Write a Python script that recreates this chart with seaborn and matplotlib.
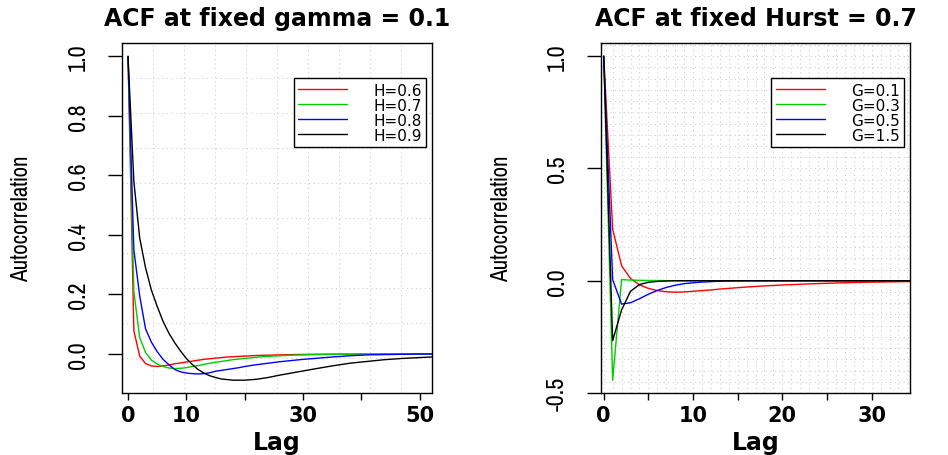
import matplotlib
matplotlib.use("Agg")
import matplotlib.pyplot as plt
from matplotlib import font_manager as fm
import seaborn as sns
import pandas as pd
import numpy as np

# ---- data ----
lags_h = [0, 1, 2, 3, 4, 5, 6, 7, 8, 9, 10, 11, 12, 13, 14, 15, 16, 17, 18, 19, 20,
          22, 24, 26, 28, 30, 32, 35, 38, 41, 44, 47, 50, 53]
acf_h06 = [1.0, 0.078, -0.007, -0.032, -0.040, -0.042, -0.040, -0.037, -0.033, -0.030,
           -0.027, -0.024, -0.021, -0.018, -0.016, -0.014, -0.012, -0.010, -0.009, -0.008,
           -0.007, -0.005, -0.004, -0.003, -0.002, -0.0015, -0.001, -0.0007, -0.0005,
           -0.0003, -0.0002, -0.0001, 0.0, 0.0]
acf_h07 = [1.0, 0.21, 0.055, 0.005, -0.020, -0.034, -0.042, -0.047, -0.049, -0.048,
           -0.046, -0.042, -0.039, -0.035, -0.031, -0.028, -0.025, -0.022, -0.019, -0.017,
           -0.015, -0.011, -0.008, -0.006, -0.004, -0.003, -0.002, -0.001, -0.0007,
           -0.0004, -0.0002, -0.0001, 0.0, 0.0]
acf_h08 = [1.0, 0.35, 0.195, 0.085, 0.040, 0.008, -0.018, -0.036, -0.052, -0.060,
           -0.064, -0.066, -0.067, -0.066, -0.063, -0.058, -0.055, -0.052, -0.049, -0.046,
           -0.042, -0.036, -0.031, -0.026, -0.022, -0.018, -0.015, -0.010, -0.006,
           -0.003, -0.002, -0.001, 0.0, 0.0]
acf_h09 = [1.0, 0.58, 0.39, 0.29, 0.215, 0.16, 0.11, 0.07, 0.038, 0.01,
           -0.015, -0.035, -0.052, -0.064, -0.073, -0.079, -0.084, -0.086, -0.088, -0.088,
           -0.088, -0.085, -0.079, -0.071, -0.064, -0.057, -0.050, -0.040, -0.031,
           -0.025, -0.019, -0.015, -0.012, -0.009]
labels_h = ["H=0.6", "H=0.7", "H=0.8", "H=0.9"]

lags_g = [0, 1, 2, 3, 4, 5, 6, 7, 8, 9, 10, 11, 12, 13, 14, 16, 18, 20, 23, 26, 29, 32, 35]
acf_g01 = [1.0, 0.23, 0.067, 0.010, -0.018, -0.034, -0.044, -0.049, -0.051, -0.050,
           -0.047, -0.044, -0.041, -0.037, -0.034, -0.028, -0.023, -0.019, -0.014,
           -0.010, -0.007, -0.005, -0.003]
acf_g03 = [1.0, -0.443, 0.005, 0.003, 0.002, 0.001, 0.001, 0.0005, 0.0, 0.0,
           0.0, 0.0, 0.0, 0.0, 0.0, 0.0, 0.0, 0.0, 0.0, 0.0, 0.0, 0.0, 0.0]
acf_g05 = [1.0, 0.005, -0.104, -0.098, -0.080, -0.060, -0.043, -0.030, -0.020, -0.013,
           -0.009, -0.006, -0.004, -0.002, -0.001, 0.0, 0.0, 0.0, 0.0, 0.0, 0.0, 0.0, 0.0]
acf_g15 = [1.0, -0.267, -0.13, -0.047, -0.017, -0.007, -0.003, -0.001, 0.0, 0.0,
           0.0, 0.0, 0.0, 0.0, 0.0, 0.0, 0.0, 0.0, 0.0, 0.0, 0.0, 0.0, 0.0]
labels_g = ["G=0.1", "G=0.3", "G=0.5", "G=1.5"]

xticks_h = [0, 10, 20, 30, 40, 50]
xticklabels_h = ["0", "10", "", "30", "", "50"]
yticks_h = [0.0, 0.2, 0.4, 0.6, 0.8, 1.0]
yticklabels_h = ["0.0", "0.2", "0.4", "0.6", "0.8", "1.0"]
xticks_g = [0, 5, 10, 15, 20, 25, 30]
xticklabels_g = ["0", "", "10", "", "20", "", "30"]
yticks_g = [-0.5, 0.0, 0.5, 1.0]
yticklabels_g = ["-0.5", "0.0", "0.5", "1.0"]

colors = ["#FF0000", "#00CD00", "#0000FF", "#000000"]

df_h = pd.DataFrame({
    "Lag": lags_h * 4,
    "ACF": acf_h06 + acf_h07 + acf_h08 + acf_h09,
    "series": sum([[l] * len(lags_h) for l in labels_h], []),
})
df_g = pd.DataFrame({
    "Lag": lags_g * 4,
    "ACF": acf_g01 + acf_g03 + acf_g05 + acf_g15,
    "series": sum([[l] * len(lags_g) for l in labels_g], []),
})

sns.set_style("ticks")
plt.rcParams["font.family"] = ["DejaVu Sans"]
for k in ["text.color", "axes.labelcolor", "xtick.color", "ytick.color", "axes.edgecolor"]:
    plt.rcParams[k] = "black"


# pick a narrow face for the vertical texts, if there is one
def narrow_font(size):
    best = None
    for f in fm.fontManager.ttflist:
        nm = f.name.lower()
        narrowish = ("narrow" in nm or "condensed" in nm or
                     str(f.stretch) in ("condensed", "semi-condensed", "extra-condensed"))
        if narrowish and f.style == "normal" and str(f.weight) in ("400", "normal", "regular"):
            if best is None or "narrow" in nm:
                best = f.fname
    if best:
        return fm.FontProperties(fname=best, size=size)
    return fm.FontProperties(family=["Liberation Sans", "DejaVu Sans"], size=size)


fig = plt.figure(figsize=(9.48, 4.56), dpi=100)
ax1 = fig.add_axes([0.1287, 0.136, 0.327, 0.7675])
ax2 = fig.add_axes([0.634, 0.136, 0.326, 0.7675])


def style_axis(ax, df, labels, xlim, ylim, xt, xtl, yt, ytl, title, vgrid, hgrid):
    ax.set_xlim(*xlim)
    ax.set_ylim(*ylim)
    for v in vgrid:
        ax.axvline(v, color="#CFCFCF", lw=0.8, ls=(0, (1, 3)), zorder=0)
    for h in hgrid:
        ax.axhline(h, color="#CFCFCF", lw=0.8, ls=(0, (1, 3)), zorder=0)
    sns.lineplot(data=df, x="Lag", y="ACF", hue="series", hue_order=labels,
                 palette=colors, estimator=None, lw=1.0, ax=ax, legend=False)
    ax.set_xticks(xt)
    ax.set_xticklabels(xtl, fontsize=15, fontweight="bold")
    ax.set_yticks(yt)
    ax.set_yticklabels(ytl, fontproperties=narrow_font(19), rotation=90, va="center")
    ax.tick_params(axis="y", length=10, width=1, pad=14)
    ax.tick_params(axis="x", length=5, width=1, pad=4)
    for s in ax.spines.values():
        s.set_visible(True)
        s.set_linewidth(1.0)
        s.set_color("black")
    ax.set_xlabel("Lag", fontsize=17, fontweight="bold", labelpad=3)
    ax.set_ylabel("Autocorrelation", fontproperties=narrow_font(18))
    ax.yaxis.set_label_coords(-0.323, 0.5)
    ax.yaxis.label.set_va("center")
    ax.set_title(title, fontsize=17, fontweight="bold", pad=13)
    handles = [plt.Line2D([], [], color=c, lw=1.0) for c in colors]
    leg = ax.legend(handles, labels, loc="upper right", bbox_to_anchor=(0.981, 0.9),
                    borderaxespad=0, fontsize=11, handlelength=3.2, handletextpad=1.7,
                    labelspacing=0.0, borderpad=0.3, fancybox=False, framealpha=1,
                    edgecolor="black")
    leg.get_frame().set_linewidth(1.0)


xlim_h = (-1.03, 52.1)
ylim_h = (-0.131, 1.045)
style_axis(ax1, df_h, labels_h, xlim_h, ylim_h, xticks_h, xticklabels_h,
           yticks_h, yticklabels_h, "ACF at fixed gamma = 0.1",
           np.linspace(xlim_h[0], xlim_h[1], 11), np.linspace(ylim_h[0], ylim_h[1], 11))

xlim_g = (-0.3, 34.3)
ylim_g = (-0.5, 1.059)
style_axis(ax2, df_g, labels_g, xlim_g, ylim_g, xticks_g, xticklabels_g,
           yticks_g, yticklabels_g, "ACF at fixed Hurst = 0.7",
           np.arange(0, 35, 1), np.arange(-0.5, 1.06, 0.05))

fig.savefig("out.png", dpi=100)
